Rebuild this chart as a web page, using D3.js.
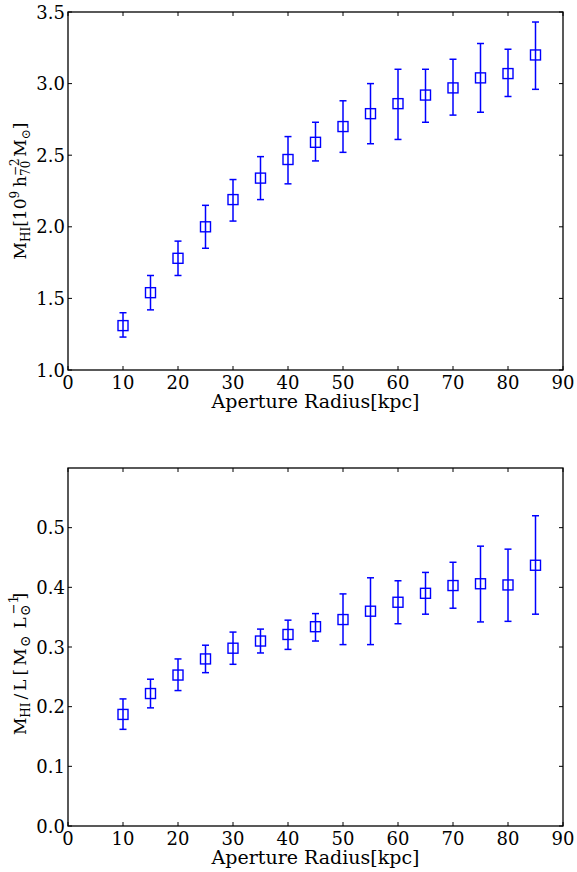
<!DOCTYPE html>
<html>
<head>
<meta charset="utf-8">
<script src="https://cdn.jsdelivr.net/npm/d3@7"></script>
<style>
  body { margin: 0; background: #fff; }
  svg { display: block; }
</style>
</head>
<body>
<svg id="chart" width="577" height="872"></svg>
<script>
// aperture radii (kpc)
const radius = [10, 15, 20, 25, 30, 35, 40, 45, 50, 55, 60, 65, 70, 75, 80, 85];

// HI mass, 10^9 h70^-2 Msun
const massHI = [1.31, 1.54, 1.78, 2.00, 2.19, 2.34, 2.47, 2.59, 2.70, 2.79, 2.86, 2.92, 2.97, 3.04, 3.07, 3.20];
const massLow = [1.23, 1.42, 1.66, 1.85, 2.04, 2.19, 2.30, 2.46, 2.52, 2.58, 2.61, 2.73, 2.78, 2.80, 2.91, 2.96];
const massHigh = [1.40, 1.66, 1.90, 2.15, 2.33, 2.49, 2.63, 2.73, 2.88, 3.00, 3.10, 3.10, 3.17, 3.28, 3.24, 3.43];

// HI mass to light ratio
const ratioML = [0.187, 0.222, 0.253, 0.280, 0.298, 0.310, 0.321, 0.334, 0.346, 0.360, 0.375, 0.390, 0.403, 0.406, 0.404, 0.437];
const ratioLow = [0.162, 0.198, 0.227, 0.257, 0.271, 0.290, 0.296, 0.310, 0.304, 0.304, 0.339, 0.355, 0.365, 0.342, 0.343, 0.355];
const ratioHigh = [0.213, 0.246, 0.280, 0.303, 0.325, 0.330, 0.345, 0.356, 0.389, 0.416, 0.411, 0.425, 0.442, 0.469, 0.464, 0.520];

const xTicks = [0, 10, 20, 30, 40, 50, 60, 70, 80, 90];
const massTicks = [1.0, 1.5, 2.0, 2.5, 3.0, 3.5];
const ratioTicks = [0.0, 0.1, 0.2, 0.3, 0.4, 0.5];

const svg = d3.select('#chart');
const font = 'DejaVu Serif, serif';
const blue = '#0000ff';

function drawPanel(top, bottom, yDomain, yTicks, ys, lo, hi, ylabel, labelMid) {
    const left = 68, right = 563;
    const x = d3.scaleLinear().domain([0, 90]).range([left, right]);
    const y = d3.scaleLinear().domain(yDomain).range([bottom, top]);
    const g = svg.append('g');

    // ticks pointing inward on all four sides
    const tl = 4;
    xTicks.forEach(t => {
        g.append('line').attr('x1', x(t)).attr('x2', x(t)).attr('y1', bottom).attr('y2', bottom - tl)
            .attr('stroke', '#000').attr('stroke-width', 1);
        g.append('line').attr('x1', x(t)).attr('x2', x(t)).attr('y1', top).attr('y2', top + tl)
            .attr('stroke', '#000').attr('stroke-width', 1);
        g.append('text').attr('x', x(t)).attr('y', bottom + 19)
            .attr('text-anchor', 'middle').attr('font-family', font).attr('font-size', 18)
            .text(t);
    });
    yTicks.forEach(t => {
        g.append('line').attr('x1', left).attr('x2', left + tl).attr('y1', y(t)).attr('y2', y(t))
            .attr('stroke', '#000').attr('stroke-width', 1);
        g.append('line').attr('x1', right).attr('x2', right - tl).attr('y1', y(t)).attr('y2', y(t))
            .attr('stroke', '#000').attr('stroke-width', 1);
        g.append('text').attr('x', left - 3).attr('y', y(t) + 6.5)
            .attr('text-anchor', 'end').attr('font-family', font).attr('font-size', 18)
            .text(t.toFixed(1));
    });

    g.append('rect').attr('x', left).attr('y', top).attr('width', right - left).attr('height', bottom - top)
        .attr('fill', 'none').attr('stroke', '#000').attr('stroke-width', 1.3);

    // error bars
    const cap = 3.5;
    const pts = g.selectAll('.pt').data(radius).enter().append('g').attr('class', 'pt');
    pts.append('line')
        .attr('x1', d => x(d)).attr('x2', d => x(d))
        .attr('y1', (d, i) => y(lo[i])).attr('y2', (d, i) => y(hi[i]))
        .attr('stroke', blue).attr('stroke-width', 1.5);
    [lo, hi].forEach(arr => {
        pts.append('line')
            .attr('x1', d => x(d) - cap).attr('x2', d => x(d) + cap)
            .attr('y1', (d, i) => y(arr[i])).attr('y2', (d, i) => y(arr[i]))
            .attr('stroke', blue).attr('stroke-width', 1.5);
    });
    const s = 10;
    pts.append('rect')
        .attr('x', d => x(d) - s / 2).attr('y', (d, i) => y(ys[i]) - s / 2)
        .attr('width', s).attr('height', s)
        .attr('fill', 'none').attr('stroke', blue).attr('stroke-width', 1.4);

    g.append('text').attr('x', (left + right) / 2).attr('y', bottom + 38)
        .attr('text-anchor', 'middle').attr('font-family', font).attr('font-size', 19)
        .text('Aperture Radius[kpc]');

    // rotated y label built piece by piece
    const lab = g.append('g');
    let cx = 0;
    ylabel.forEach(p => {
        const size = p.small ? (p.size || 12) : 17;
        const t = lab.append('text').attr('x', cx + (p.dx || 0)).attr('y', p.dy || 0)
            .attr('font-family', font).attr('font-size', size).text(p.t);
        const w = t.node().getComputedTextLength();
        if (!p.stack) cx += w + (p.dx || 0);
    });
    const mid = labelMid || (top + bottom) / 2;
    lab.attr('transform', `translate(26,${mid + cx / 2}) rotate(-90)`);
}

drawPanel(12, 370, [1.0, 3.5], massTicks, massHI, massLow, massHigh, [
    { t: 'M' }, { t: 'HI', small: true, dy: 4 }, { t: '[10' }, { t: '9', small: true, dy: -7 },
    { t: 'h', dx: 4 }, { t: '−2', small: true, dy: -7, stack: true }, { t: '70', small: true, dy: 4 },
    { t: 'M', dx: 4 }, { t: '⊙', small: true, dy: 4 }, { t: ']' }
]);

drawPanel(468, 826, [0.0, 0.6], ratioTicks, ratioML, ratioLow, ratioHigh, [
    { t: 'M' }, { t: 'HI', small: true, dy: 4 }, { t: '/', dx: 3 }, { t: 'L', dx: 3 },
    { t: '[', dx: 4 }, { t: 'M', dx: 3 }, { t: '⊙', small: true, size: 14, dy: 4, dx: 1 },
    { t: 'L', dx: 7 }, { t: '−1', small: true, size: 13, dy: -8, stack: true, dx: 3 },
    { t: '⊙', small: true, size: 14, dy: 4, dx: 1 }, { t: '  ', dx: 2 }, { t: ']', dx: 3 }
], 664);
</script>
</body>
</html>
